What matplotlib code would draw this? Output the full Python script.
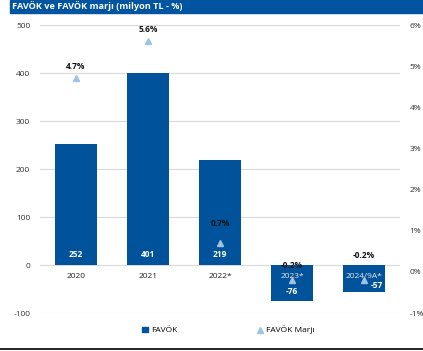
import matplotlib
matplotlib.use("Agg")
import matplotlib.pyplot as plt
from matplotlib.lines import Line2D
from matplotlib.patches import Patch

plt.rcParams['font.family'] = ['Open Sans', 'DejaVu Sans']
plt.rcParams['axes.unicode_minus'] = False

# FAVÖK (milyon TL) ve FAVÖK marjı (%)
years = ["2020", "2021", "2022*", "2023*", "2024/9A*"]
favok = [252, 401, 219, -76, -57]
marj = [4.7, 5.6, 0.7, -0.2, -0.2]

bar_color = "#00529B"
marker_color = "#9DC3E6"

fig = plt.figure(figsize=(4.23, 3.51), dpi=100)

# baslik seridi
fig.patches.append(plt.Rectangle((10 / 423, 1 - 13 / 351), 1, 13 / 351,
                                 transform=fig.transFigure, color="#0054A0", zorder=0))
fig.text(12 / 423, 1 - 6.5 / 351, "FAVÖK ve FAVÖK marjı (milyon TL - %)", color="white",
         fontsize=6.6, fontweight="bold", va="center", ha="left")

ax = fig.add_axes([40 / 423, 1 - 313 / 351, 360 / 423, 288 / 351])
x = list(range(len(years)))
ax.bar(x, favok, width=0.58, color=bar_color, zorder=2)
ax.set_ylim(-100, 500)
ax.set_xlim(-0.5, len(years) - 0.5)
ax.set_yticks([-100, 0, 100, 200, 300, 400, 500])
ax.grid(axis="y", color="#D9D9D9", linewidth=0.8, zorder=0)
ax.set_xticks([])
for s in ax.spines.values():
    s.set_visible(False)
ax.tick_params(axis="y", length=0, labelsize=6, colors="#333333", pad=7)

# deger etiketlerinin yeri (x kaymasi, cubuk ucundan uzaklik)
val_dx = [0, 0, 0, 0, 0.18]
val_dy = [21, 21, 21, 20, 15]
for i, v in enumerate(favok):
    ypos = val_dy[i] if v > 0 else v + val_dy[i]
    ax.text(i + val_dx[i], ypos, str(v), color="white", fontsize=6, fontweight="bold",
            ha="center", va="center", zorder=4)
    ax.text(i, -24, years[i], color="#222222" if v > 0 else "#E8E8E8", fontsize=6,
            ha="center", va="center", zorder=4)

ax2 = ax.twinx()
ax2.set_ylim(-1, 6)
ax2.set_yticks(range(-1, 7))
ax2.set_yticklabels([f"{t}%" for t in range(-1, 7)])
for s in ax2.spines.values():
    s.set_visible(False)
ax2.tick_params(axis="y", length=0, labelsize=6, colors="#333333", pad=7)
ax2.plot(x, marj, linestyle="none", marker="^", markersize=5, color=marker_color, zorder=5)

# etiketlerin isaretcilere gore dikey kaymasi (% puan)
label_dy = [0.28, 0.3, 0.48, 0.36, 0.6]
for i, m in enumerate(marj):
    ax2.text(i, m + label_dy[i], f"{m:.1f}%", color="#111111", fontsize=6, fontweight="bold",
             ha="center", va="center", zorder=6)

handles = [Patch(color=bar_color, label="FAVÖK"),
           Line2D([], [], linestyle="none", marker="^", color=marker_color, markersize=5,
                  label="FAVÖK Marjı")]
fig.legend(handles=handles, loc="center", bbox_to_anchor=(228 / 423, 1 - 330 / 351), ncol=2,
           frameon=False, fontsize=6, handlelength=0.8, handletextpad=0.3,
           columnspacing=9.5)

# alt cizgi
fig.add_artist(Line2D([0, 1], [1 - 349 / 351] * 2, transform=fig.transFigure,
                      color="black", linewidth=1.2))

fig.savefig("out.png", dpi=100)
